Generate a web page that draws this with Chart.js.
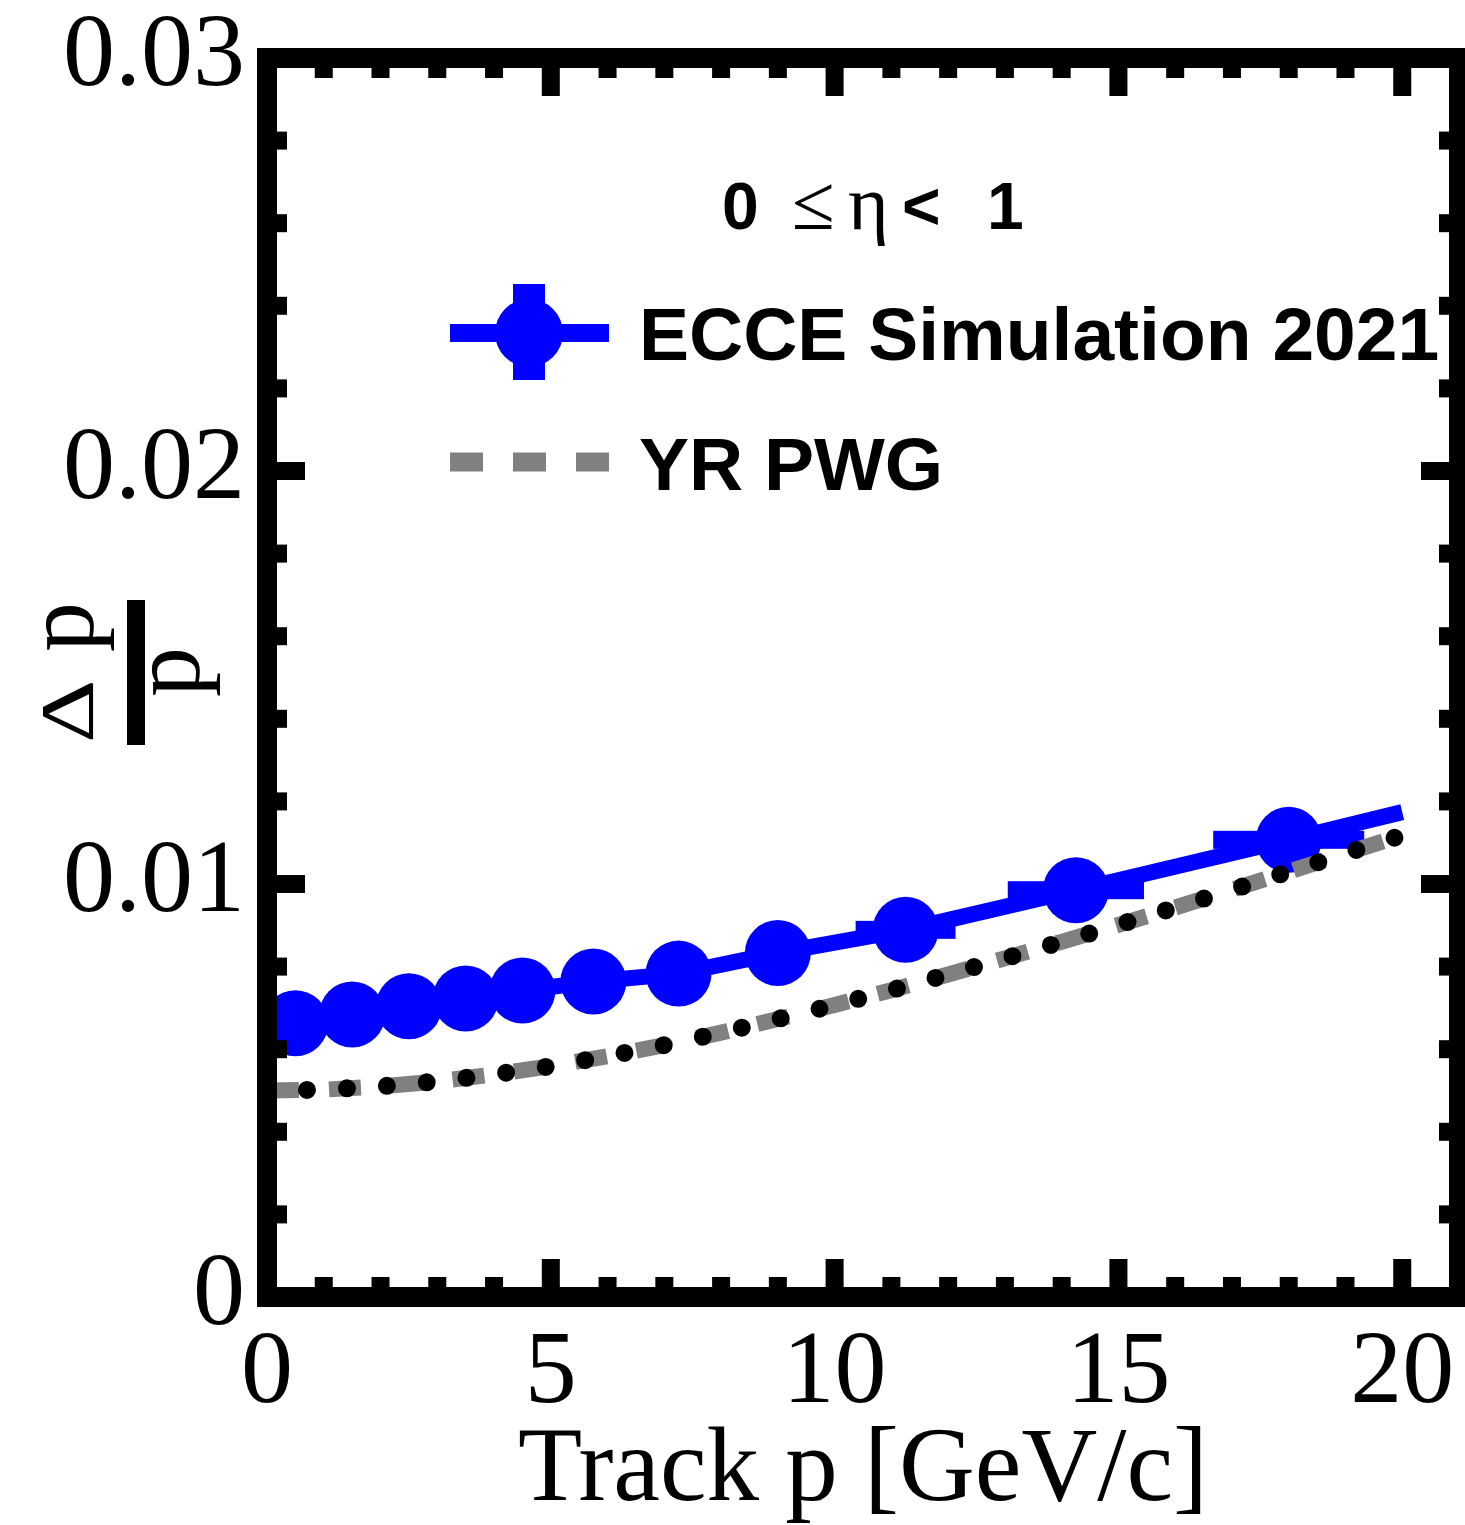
<!DOCTYPE html>
<html>
<head>
<meta charset="utf-8">
<script src="https://cdn.jsdelivr.net/npm/chart.js@4.4.1/dist/chart.umd.min.js"></script>
<style>
html,body{margin:0;padding:0;background:#fff;}
#wrap{width:1465px;height:1525px;position:relative;}
</style>
</head>
<body>
<div id="wrap"><canvas id="c" width="1465" height="1525"></canvas></div>
<script>
// ---------- data ----------
const xTickValues = [0, 5, 10, 15, 20];
const xTickLabels = ['0', '5', '10', '15', '20'];
const yTickValues = [0, 0.01, 0.02, 0.03];
const yTickLabels = ['0', '0.01', '0.02', '0.03'];

const ecceP    = [0.5, 1.5, 2.5, 3.5, 4.5, 5.75, 7.25, 9.0, 11.25, 14.25, 18.0];
const ecceRes  = [0.00663, 0.00684, 0.00704, 0.00723, 0.00742, 0.00764, 0.00783, 0.00833, 0.00889, 0.00985, 0.01107];
const ecceErrP = [0.3, 0.3, 0.3, 0.3, 0.3, 0.45, 0.45, 0.55, 0.88, 1.2, 1.33];
const ecceLineEndP   = [20.0];
const ecceLineEndRes = [0.01174];

const yrP   = [0, 1, 2, 3, 4, 5, 6, 7, 8, 9, 10, 11, 12, 13, 14, 15, 16, 17, 18, 19, 20];
const yrRes = [0.00500, 0.00502, 0.00510, 0.00522, 0.00539, 0.00559, 0.00583, 0.00610, 0.00640, 0.00673, 0.00707,
               0.00743, 0.00781, 0.00820, 0.00860, 0.00901, 0.00943, 0.00986, 0.01030, 0.01074, 0.01118];

const seriesLabels = ['ECCE Simulation 2021', 'YR PWG'];
const etaParts = ['0', '≤', 'η', '<', '1'];
const xTitle = 'Track p [GeV/c]';
const yTitleNum = ['Δ', 'p'];
const yTitleDen = 'p';

// ---------- styles ----------
const BLUE = '#0000ff';
const GRAY = '#808080';
const SERIF = '"Liberation Serif", "Times New Roman", serif';
const SANS = '"Liberation Sans", Arial, sans-serif';

const ecceData = ecceP.map((p, i) => ({x: p, y: ecceRes[i]}))
  .concat(ecceLineEndP.map((p, i) => ({x: p, y: ecceLineEndRes[i]})));
const ecceRadii = ecceP.map(() => 33).concat(ecceLineEndP.map(() => 0));
const yrData = yrP.map((p, i) => ({x: p, y: yrRes[i]}));

function noPad(s) { s.paddingLeft = 0; s.paddingRight = 0; s.paddingTop = 0; s.paddingBottom = 0; }

// horizontal error bars, drawn through the scales
const errorBarPlugin = {
  id: 'errbars',
  beforeDatasetsDraw(chart) {
    const {ctx, chartArea, scales: {x, y}} = chart;
    ctx.save();
    ctx.beginPath();
    ctx.rect(chartArea.left, chartArea.top, chartArea.right - chartArea.left, chartArea.bottom - chartArea.top);
    ctx.clip();
    ctx.fillStyle = BLUE;
    ecceP.forEach((p, i) => {
      const x0 = x.getPixelForValue(p - ecceErrP[i]);
      const x1 = x.getPixelForValue(p + ecceErrP[i]);
      const py = y.getPixelForValue(ecceRes[i]);
      ctx.fillRect(x0, py - 9, x1 - x0, 18);
    });
    ctx.restore();
  }
};

// thick frame with inward ticks on all four sides
const framePlugin = {
  id: 'frame',
  afterDatasetsDraw(chart) {
    const {ctx, chartArea: {left, right, top, bottom}, scales: {x, y}} = chart;
    const bw = 20, tw = 18, majLen = 28, minLen = 10;
    ctx.save();
    ctx.fillStyle = '#000';
    ctx.fillRect(left - bw / 2, top - bw / 2, right - left + bw, bw);
    ctx.fillRect(left - bw / 2, bottom - bw / 2, right - left + bw, bw);
    ctx.fillRect(left - bw / 2, top - bw / 2, bw, bottom - top + bw);
    ctx.fillRect(right - bw / 2, top - bw / 2, bw, bottom - top + bw);
    for (let k = 1; k <= 20; k++) {
      const px = x.getPixelForValue(k);
      const len = (k % 5 === 0) ? majLen : minLen;
      ctx.fillRect(px - tw / 2, bottom - bw / 2 - len, tw, len + 1);
      ctx.fillRect(px - tw / 2, top + bw / 2 - 1, tw, len + 1);
    }
    for (let k = 1; k < 15; k++) {
      const py = y.getPixelForValue(k * 0.002);
      const len = (k % 5 === 0) ? majLen : minLen;
      ctx.fillRect(left + bw / 2 - 1, py - tw / 2, len + 1, tw);
      ctx.fillRect(right - bw / 2 - len, py - tw / 2, len + 1, tw);
    }
    ctx.restore();
  }
};

// legend, eta label and the fraction y title
const annotPlugin = {
  id: 'annot',
  afterDraw(chart) {
    const ctx = chart.ctx;
    ctx.save();
    ctx.fillStyle = '#000';
    ctx.textBaseline = 'alphabetic';
    ctx.textAlign = 'left';
    // eta range header
    const boldF = 'bold 66px ' + SANS;
    const serF = '78px ' + SERIF;
    const pos = [722, 792, 848, 902, 987];
    const fonts = [boldF, serF, serF, boldF, boldF];
    etaParts.forEach((t, i) => { ctx.font = fonts[i]; ctx.fillText(t, pos[i], 229); });

    // ECCE legend marker
    ctx.fillStyle = BLUE;
    ctx.fillRect(450, 324, 159, 18);
    ctx.fillRect(513, 284, 32, 96);
    ctx.beginPath(); ctx.arc(529, 333, 34, 0, Math.PI * 2); ctx.fill();
    // YR legend marker
    ctx.strokeStyle = GRAY;
    ctx.lineWidth = 19;
    ctx.setLineDash([33, 30]);
    ctx.beginPath(); ctx.moveTo(450, 462); ctx.lineTo(611, 462); ctx.stroke();
    ctx.setLineDash([]);

    ctx.fillStyle = '#000';
    ctx.font = 'bold 75px ' + SANS;
    ctx.fillText(seriesLabels[0], 639, 360);
    ctx.fillText(seriesLabels[1], 639, 490);

    // y-axis title: fraction Δp / p rotated
    ctx.translate(136, 672);
    ctx.rotate(-Math.PI / 2);
    ctx.fillRect(-73, -9, 145, 18);
    ctx.save();
    ctx.translate(-71, -43);
    ctx.scale(1.3, 1);
    ctx.font = '76px ' + SERIF;
    ctx.fillText(yTitleNum[0], 0, 0);
    ctx.restore();
    ctx.font = '100px ' + SERIF;
    ctx.fillText(yTitleNum[1], 20, -43);
    ctx.textAlign = 'center';
    ctx.fillText(yTitleDen, 0, 63);
    ctx.restore();
  }
};

new Chart(document.getElementById('c'), {
  type: 'line',
  data: {
    datasets: [
      {
        label: seriesLabels[0],
        data: ecceData,
        borderColor: BLUE,
        backgroundColor: BLUE,
        borderWidth: 16,
        pointRadius: ecceRadii,
        pointHoverRadius: ecceRadii,
        pointBorderWidth: 0,
        pointBackgroundColor: BLUE,
        tension: 0,
        order: 3
      },
      {
        label: seriesLabels[1],
        data: yrData,
        borderColor: GRAY,
        borderWidth: 16,
        borderDash: [32, 30],
        borderCapStyle: 'butt',
        pointRadius: 0,
        tension: 0,
        order: 2
      },
      {
        label: seriesLabels[1] + ' (dots)',
        data: yrData,
        borderColor: '#000',
        borderWidth: 18,
        borderDash: [0, 40],
        borderCapStyle: 'round',
        pointRadius: 0,
        tension: 0,
        order: 1
      }
    ]
  },
  options: {
    responsive: false,
    devicePixelRatio: 1,
    animation: false,
    events: [],
    layout: {autoPadding: false, padding: {top: 58, right: 6, bottom: 0, left: 0}},
    plugins: {legend: {display: false}, tooltip: {enabled: false}},
    scales: {
      x: {
        type: 'linear',
        position: 'bottom',
        min: 0,
        max: 21,
        grid: {display: false, drawTicks: false},
        border: {display: false},
        afterBuildTicks: s => { s.ticks = xTickValues.map(v => ({value: v})); },
        afterFit: s => { s.height = 228; noPad(s); },
        ticks: {
          autoSkip: false,
          maxRotation: 0,
          padding: 26,
          color: '#000',
          font: {family: SERIF, size: 104, lineHeight: 1},
          callback: v => xTickLabels[xTickValues.indexOf(v)]
        },
        title: {
          display: true,
          text: xTitle,
          color: '#000',
          font: {family: SERIF, size: 105, lineHeight: 1},
          padding: {top: 0, bottom: 0}
        }
      },
      y: {
        type: 'linear',
        min: 0,
        max: 0.03,
        grid: {display: false, drawTicks: false},
        border: {display: false},
        afterBuildTicks: s => { s.ticks = yTickValues.map(v => ({value: v})); },
        afterFit: s => { s.width = 267; noPad(s); },
        ticks: {
          padding: 22,
          color: '#000',
          font: {family: SERIF, size: 104, lineHeight: 1},
          callback: v => yTickLabels[yTickValues.indexOf(v)]
        }
      }
    }
  },
  plugins: [errorBarPlugin, framePlugin, annotPlugin]
});
</script>
</body>
</html>
